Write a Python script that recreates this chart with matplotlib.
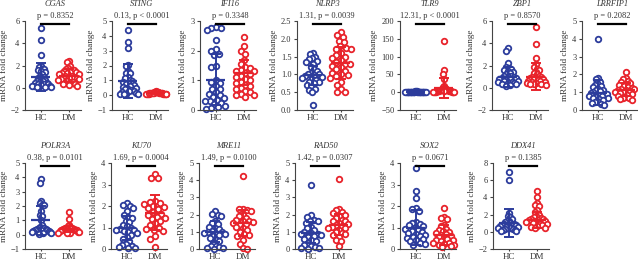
import matplotlib
matplotlib.use("Agg")
import matplotlib.pyplot as plt
import numpy as np

# ---------------- data ----------------
genes = ["CGAS", "STING", "IFI16", "NLRP3", "TLR9", "ZBP1", "LRRFIP1",
         "POLR3A", "KU70", "MRE11", "RAD50", "SOX2", "DDX41"]
groups = ["HC", "DM"]
p_labels = ["p = 0.8352", "0.13, p < 0.0001", "p = 0.3348", "1.31, p = 0.0039",
            "12.31, p < 0.0001", "p = 0.8570", "p = 0.2082",
            "0.38, p = 0.0101", "1.69, p = 0.0004", "1.49, p = 0.0100",
            "1.42, p = 0.0307", "p = 0.0671", "p = 0.1385"]

cgas_hc = [5.35, 4.25, 2.95, 2.0, 1.9, 1.7, 1.65, 1.6, 1.5, 1.4, 1.2, 1.1, 1.0, 0.9, 0.8, 0.7,
           0.65, 0.6, 0.5, 0.45, 0.4, 0.35, 0.3, 0.3, 0.25, 0.2, 0.2, 0.15, 0.1, 0.1, 0.05]
cgas_dm = [2.4, 2.3, 2.0, 1.8, 1.7, 1.6, 1.6, 1.5, 1.45, 1.4, 1.35, 1.3, 1.25, 1.2, 1.1, 1.05,
           1.0, 0.95, 0.9, 0.85, 0.8, 0.75, 0.7, 0.6, 0.55, 0.5, 0.4, 0.35, 0.3, 0.25, 0.2]
sting_hc = [4.4, 3.6, 3.2, 2.05, 2.0, 1.6, 1.5, 1.5, 1.2, 1.15, 1.0, 0.95, 0.9, 0.8, 0.75,
            0.7, 0.6, 0.55, 0.5, 0.45, 0.4, 0.35, 0.3, 0.25, 0.2, 0.15, 0.1, 0.1, 0.05, 0.05]
sting_dm = [0.25, 0.22, 0.2, 0.2, 0.18, 0.18, 0.17, 0.16, 0.15, 0.15, 0.14, 0.13, 0.12, 0.12,
            0.11, 0.1, 0.1, 0.09, 0.08, 0.08, 0.07, 0.06, 0.05, 0.12, 0.14, 0.16]
ifi16_hc = [2.8, 2.75, 2.78, 2.7, 2.35, 2.05, 2.0, 1.9, 1.85, 1.45, 1.5, 1.0, 0.95, 0.9, 0.8,
            0.7, 0.7, 0.6, 0.55, 0.5, 0.45, 0.4, 0.35, 0.3, 0.25, 0.2, 0.15, 0.1, 0.08, 0.05, 0.3]
ifi16_dm = [2.45, 2.15, 2.0, 1.9, 1.7, 1.55, 1.45, 1.4, 1.35, 1.3, 1.3, 1.25, 1.2, 1.15, 1.1,
            1.05, 1.0, 0.95, 0.9, 0.85, 0.8, 0.75, 0.7, 0.65, 0.6, 0.55, 0.5, 0.45, 0.5]
nlrp3_hc = [1.6, 1.58, 1.5, 1.45, 1.42, 1.38, 1.35, 1.3, 1.2, 1.15, 1.1, 1.05, 1.0, 1.0, 0.98,
            0.95, 0.93, 0.9, 0.88, 0.85, 0.8, 0.78, 0.75, 0.7, 0.65, 0.6, 0.55, 0.5, 0.15]
nlrp3_dm = [2.2, 2.1, 2.05, 1.95, 1.9, 1.8, 1.75, 1.72, 1.7, 1.6, 1.55, 1.5, 1.45, 1.4, 1.35,
            1.3, 1.28, 1.25, 1.2, 1.15, 1.1, 1.05, 1.0, 0.98, 0.95, 0.9, 0.8, 0.7, 0.6, 0.5, 0.5]
tlr9_hc = [2.5, 2.2, 2.0, 1.8, 1.6, 1.5, 1.4, 1.3, 1.2, 1.1, 1.0, 1.0, 0.9, 0.9, 0.8, 0.8,
           0.7, 0.7, 0.6, 0.6, 0.5, 0.5, 0.4, 0.4, 0.3, 0.3, 0.2, 0.2]
tlr9_dm = [143, 62, 50, 38, 18, 15, 12, 10, 8, 7, 6, 5, 5, 4, 4, 3, 3, 2, 2, 2, 1, 1, 1, 1,
           0.5, 0.5, 0.3, 0.2]
zbp1_hc = [3.6, 3.3, 2.2, 1.9, 1.8, 1.7, 1.6, 1.5, 1.4, 1.3, 1.2, 1.1, 1.05, 1.0, 0.95, 0.9,
           0.85, 0.8, 0.75, 0.7, 0.65, 0.6, 0.55, 0.5, 0.45, 0.4, 0.35, 0.3, 0.25, 0.2]
zbp1_dm = [5.5, 3.9, 2.7, 2.1, 1.9, 1.7, 1.6, 1.4, 1.3, 1.2, 1.1, 1.0, 0.95, 0.9, 0.85, 0.8,
           0.75, 0.7, 0.65, 0.6, 0.55, 0.5, 0.45, 0.4, 0.35, 0.3, 0.3, 0.25]
lrrfip1_hc = [4.0, 1.8, 1.75, 1.6, 1.5, 1.4, 1.35, 1.3, 1.2, 1.15, 1.1, 1.05, 1.0, 0.95, 0.9,
              0.9, 0.85, 0.8, 0.8, 0.75, 0.7, 0.65, 0.6, 0.55, 0.5, 0.45, 0.4, 0.35, 0.3]
lrrfip1_dm = [2.15, 1.78, 1.72, 1.65, 1.55, 1.5, 1.45, 1.4, 1.35, 1.3, 1.25, 1.2, 1.18, 1.15,
              1.1, 1.05, 1.0, 1.0, 0.95, 0.9, 0.85, 0.8, 0.75, 0.7, 0.65, 0.6, 0.55]
polr3a_hc = [3.9, 3.6, 2.35, 2.2, 2.1, 2.1, 1.65, 1.35, 1.3, 1.0, 0.7, 0.55, 0.5, 0.45, 0.45,
             0.4, 0.4, 0.35, 0.35, 0.3, 0.3, 0.25, 0.25, 0.2, 0.2, 0.15, 0.1, 0.1, 0.05]
polr3a_dm = [1.6, 1.1, 0.65, 0.6, 0.55, 0.5, 0.5, 0.45, 0.45, 0.4, 0.4, 0.4, 0.35, 0.35, 0.3,
             0.3, 0.3, 0.25, 0.25, 0.2, 0.2, 0.2, 0.15, 0.15, 0.1]
ku70_hc = [2.15, 2.05, 2.0, 1.9, 1.75, 1.6, 1.5, 1.45, 1.3, 1.25, 1.1, 1.05, 1.0, 0.95, 0.9,
           0.9, 0.85, 0.8, 0.75, 0.65, 0.55, 0.45, 0.35, 0.25, 0.2, 0.15, 0.1, 0.05, 0.05]
ku70_dm = [3.5, 3.3, 3.28, 2.25, 2.2, 2.15, 2.1, 2.0, 1.95, 1.9, 1.85, 1.7, 1.65, 1.6, 1.5,
           1.45, 1.4, 1.3, 1.2, 1.1, 1.0, 0.95, 0.9, 0.85, 0.6, 0.45, 0.1]
mre11_hc = [2.2, 2.05, 2.0, 1.9, 1.6, 1.5, 1.45, 1.3, 1.2, 1.15, 1.05, 1.0, 1.0, 0.95, 0.9,
            0.85, 0.8, 0.75, 0.65, 0.55, 0.45, 0.35, 0.2, 0.15, 0.1, 0.05, 0.05, 0.0]
mre11_dm = [4.25, 2.35, 2.3, 2.25, 2.2, 2.0, 1.9, 1.8, 1.7, 1.65, 1.6, 1.55, 1.5, 1.45, 1.4,
            1.3, 1.2, 1.1, 1.0, 0.85, 0.8, 0.75, 0.5, 0.3, 0.05, 0.0]
rad50_hc = [3.75, 1.95, 1.85, 1.7, 1.65, 1.6, 1.5, 1.3, 1.2, 1.1, 1.0, 0.95, 0.9, 0.85, 0.8,
            0.75, 0.7, 0.6, 0.5, 0.45, 0.35, 0.25, 0.15, 0.1, 0.05, 0.05, 0.0]
rad50_dm = [4.05, 2.3, 2.25, 2.15, 2.1, 2.0, 1.9, 1.8, 1.7, 1.65, 1.6, 1.5, 1.45, 1.4, 1.35,
            1.3, 1.25, 1.2, 1.1, 1.0, 0.95, 0.85, 0.8, 0.7, 0.5, 0.45, 0.2]
sox2_hc = [3.75, 2.7, 2.35, 1.9, 1.85, 1.75, 1.25, 1.2, 1.15, 1.1, 1.05, 1.0, 0.95, 0.9, 0.85,
           0.8, 0.75, 0.7, 0.65, 0.6, 0.55, 0.5, 0.45, 0.4, 0.35, 0.3, 0.25, 0.2]
sox2_dm = [1.9, 1.5, 1.45, 1.4, 1.1, 1.05, 0.95, 0.9, 0.85, 0.8, 0.75, 0.7, 0.65, 0.6, 0.55,
           0.5, 0.45, 0.4, 0.4, 0.35, 0.3, 0.3, 0.25, 0.2, 0.2, 0.15, 0.1]
ddx41_hc = [6.9, 6.0, 2.2, 1.8, 1.7, 1.5, 1.3, 1.2, 1.1, 1.0, 0.95, 0.9, 0.85, 0.8, 0.75, 0.7,
            0.65, 0.6, 0.55, 0.5, 0.45, 0.4, 0.35, 0.3, 0.25, 0.2, 0.15, 0.1]
ddx41_dm = [4.8, 4.1, 3.4, 3.1, 3.0, 2.5, 2.3, 2.0, 1.8, 1.7, 1.6, 1.5, 1.45, 1.4, 1.35, 1.3,
            1.2, 1.1, 1.0, 0.95, 0.9, 0.8, 0.7, 0.6, 0.5, 0.45]

hc_values = [cgas_hc, sting_hc, ifi16_hc, nlrp3_hc, tlr9_hc, zbp1_hc, lrrfip1_hc,
             polr3a_hc, ku70_hc, mre11_hc, rad50_hc, sox2_hc, ddx41_hc]
dm_values = [cgas_dm, sting_dm, ifi16_dm, nlrp3_dm, tlr9_dm, zbp1_dm, lrrfip1_dm,
             polr3a_dm, ku70_dm, mre11_dm, rad50_dm, sox2_dm, ddx41_dm]

# mean and SD bars as drawn in the picture
hc_mean = [1.0, 0.95, 1.02, 0.97, 1.0, 1.0, 0.97, 1.0, 0.98, 1.0, 0.95, 1.0, 1.0]
hc_sd = [1.25, 1.15, 0.86, 0.28, 0.8, 0.9, 0.7, 1.0, 0.55, 0.6, 0.6, 0.8, 1.6]
dm_mean = [1.1, 0.14, 1.25, 1.31, 12.3, 1.0, 1.15, 0.4, 1.69, 1.49, 1.42, 0.65, 1.4]
dm_sd = [0.6, 0.05, 0.42, 0.45, 28.0, 1.2, 0.38, 0.22, 0.8, 0.75, 0.6, 0.45, 0.9]

yticks = [[-2, 0, 2, 4, 6], [-1, 0, 1, 2, 3, 4, 5], [0, 1, 2, 3],
          [0.0, 0.5, 1.0, 1.5, 2.0, 2.5], [-50, 0, 50, 100, 150, 200],
          [-2, 0, 2, 4, 6], [0, 1, 2, 3, 4, 5], [-1, 0, 1, 2, 3, 4, 5],
          [0, 1, 2, 3, 4], [0, 1, 2, 3, 4, 5], [0, 1, 2, 3, 4, 5],
          [0, 1, 2, 3, 4], [-2, 0, 2, 4, 6, 8]]
ytick_fmt = ["{:g}"] * 3 + ["{:.1f}"] + ["{:g}"] * 9

# ---------------- layout (pixels) ----------------
W, H = 638, 264
spine_x = [25, 112, 200, 297, 400, 492, 582, 25, 111, 199, 295, 400, 493]
row = [0] * 7 + [1] * 6
row_top = [21, 163]
row_bot = [110, 249]
AX_W = 56
XLIM = (-0.57, 1.43)
ppu_x = AX_W / (XLIM[1] - XLIM[0])

BLUE = "#2c3c9c"
RED = "#e8232b"
TXT = "#333333"
SERIF = ["Liberation Serif", "DejaVu Serif"]
plt.rcParams["font.family"] = SERIF
plt.rcParams["axes.unicode_minus"] = True

fig = plt.figure(figsize=(W / 100, H / 100), dpi=100)


def swarm(vals, ppu_y, d=5.6, maxw=10.5):
    ys = np.asarray(vals, float) * ppu_y
    order = np.argsort(-ys)
    xs = np.zeros(len(ys))
    placed = []
    for i in order:
        y = ys[i]
        ivs = []
        for xj, yj in placed:
            dy = abs(y - yj)
            if dy < d:
                w = np.sqrt(d * d - dy * dy)
                ivs.append((xj - w, xj + w))
        cands = [0.0] + [a for a, b in ivs] + [b for a, b in ivs]
        cands.sort(key=lambda c: (abs(c), c))
        for c in cands:
            if all(not (a + 1e-6 < c < b - 1e-6) for a, b in ivs):
                xs[i] = c
                break
        placed.append((xs[i], y))
    m = np.max(np.abs(xs)) if len(xs) else 0
    if m > maxw:
        xs *= maxw / m
    return xs


for k, g in enumerate(genes):
    r = row[k]
    top, bot = row_top[r], row_bot[r]
    hpx = bot - top
    ax = fig.add_axes([spine_x[k] / W, 1 - bot / H, AX_W / W, hpx / H])
    yt = yticks[k]
    ax.set_ylim(yt[0], yt[-1])
    ax.set_xlim(*XLIM)
    ppu_y = hpx / (yt[-1] - yt[0])

    for gi, (vals, col, mu, sd) in enumerate([(hc_values[k], BLUE, hc_mean[k], hc_sd[k]),
                                               (dm_values[k], RED, dm_mean[k], dm_sd[k])]):
        off = swarm(vals, ppu_y) / ppu_x
        ax.plot(gi + off, vals, "o", ms=4.0, mfc="white", mec=col, mew=1.3,
                ls="none", clip_on=False, zorder=2)
        ax.hlines(mu, gi - 0.34, gi + 0.34, color=col, lw=1.6, zorder=3)
        ax.vlines(gi, mu - sd, mu + sd, color=col, lw=1.4, zorder=3)
        ax.hlines([mu - sd, mu + sd], gi - 0.18, gi + 0.18, color=col, lw=1.4, zorder=3)

    for s in ["top", "right"]:
        ax.spines[s].set_visible(False)
    for s in ["left", "bottom"]:
        ax.spines[s].set_color("#444444")
        ax.spines[s].set_linewidth(0.8)
    ax.set_yticks(yt)
    ax.set_yticklabels([ytick_fmt[k].format(v).replace("-", "\u2212") for v in yt])
    ax.set_xticks([0, 1])
    ax.set_xticklabels(groups)
    ax.tick_params(axis="y", length=2.5, width=0.8, pad=1.5, labelsize=6, colors="#444444",
                   labelcolor=TXT)
    ax.tick_params(axis="x", length=1.5, width=0.8, pad=1.5, labelsize=6.5, colors="#444444",
                   labelcolor=TXT)
    ax.set_ylabel("mRNA fold change", fontsize=6.6, color=TXT, labelpad=2)

    # significance bar, p label, title
    ax.plot([0, 1], [1 - 2.5 / hpx] * 2, color="black", lw=1.6,
            transform=ax.get_xaxis_transform(), clip_on=False, zorder=4)
    ax.text(0.5, 1 + 5.5 / hpx, p_labels[k], transform=ax.get_xaxis_transform(),
            ha="center", va="center", fontsize=6, color=TXT)
    ax.text(0.5, 1 + 17 / hpx, g, transform=ax.get_xaxis_transform(),
            ha="center", va="center", fontsize=6, color=TXT, style="italic")

fig.savefig("out.png", dpi=100)
